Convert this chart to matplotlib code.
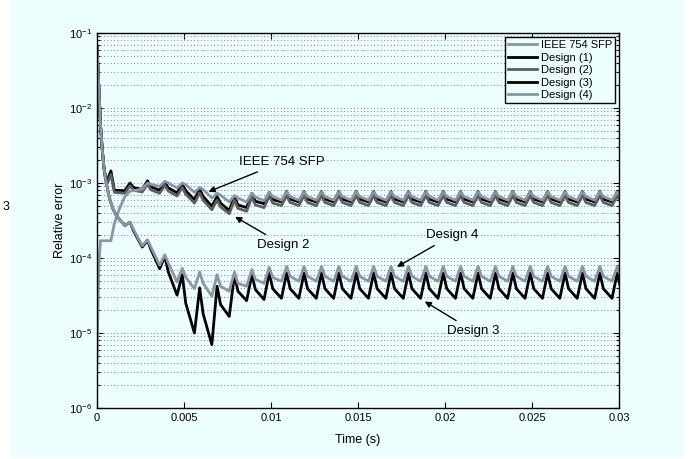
import matplotlib
matplotlib.use("Agg")
import matplotlib.pyplot as plt
from matplotlib.patches import Rectangle
from matplotlib.ticker import LogLocator, NullFormatter, FixedLocator

plt.rcParams['font.family'] = ['Liberation Sans', 'DejaVu Sans']

# ---------------- data ----------------
# time of each ripple peak after the start-up (s)
cycle_t = [round(0.0009 + 0.001 * k, 4) for k in range(1, 30)]

# IEEE 754 SFP
ieee_head_t = [0.0, 0.0001, 0.0002, 0.0004, 0.0008, 0.0010, 0.0013]
ieee_head_v = [4e-6, 8e-5, 1.7e-4, 1.7e-4, 1.7e-4, 2.9e-4, 4.6e-4]
ieee_trough = [6.6e-4, 8.3e-4, 9.0e-4, 8.6e-4, 7.5e-4, 6.3e-4, 5.6e-4, 5.6e-4, 5.8e-4] + [5.9e-4] * 20
ieee_peak = [7.8e-4, 1.0e-3, 1.05e-3, 1.0e-3, 8.7e-4, 7.3e-4, 6.8e-4, 7.3e-4, 7.5e-4] + [7.6e-4] * 20
ieee_knee = [7.9e-4, 9.6e-4, 1.0e-3, 9.5e-4, 8.2e-4, 6.9e-4, 6.3e-4, 6.5e-4, 6.6e-4] + [6.6e-4] * 20

# Design (1)
d1_head_t = [0.0, 0.0001, 0.0002, 0.0003, 0.0004, 0.0005, 0.0006, 0.0008, 0.0010]
d1_head_v = [6.5e-2, 2.0e-2, 6.0e-3, 2.8e-3, 1.6e-3, 1.15e-3, 1.1e-3, 1.45e-3, 8.0e-4]
d1_trough = [7.9e-4, 8.2e-4, 8.0e-4, 7.4e-4, 6.0e-4, 4.9e-4, 4.3e-4, 4.7e-4, 5.3e-4] + [5.6e-4] * 20
d1_peak = [1.0e-3, 1.07e-3, 1.04e-3, 9.7e-4, 8.3e-4, 6.6e-4, 6.6e-4, 7.3e-4, 7.5e-4] + [7.7e-4] * 20
d1_knee = [8.7e-4, 8.9e-4, 8.6e-4, 7.9e-4, 6.6e-4, 5.4e-4, 5.1e-4, 5.7e-4, 6.0e-4] + [6.1e-4] * 20

# Design (2)
d2_head_t = [0.0, 0.0001, 0.0002, 0.0003, 0.0004, 0.0005, 0.0006, 0.0008, 0.0010]
d2_head_v = [6.5e-2, 2.0e-2, 6.0e-3, 2.8e-3, 1.6e-3, 1.1e-3, 1.0e-3, 1.3e-3, 7.5e-4]
d2_trough = [7.3e-4, 7.6e-4, 7.3e-4, 6.7e-4, 5.4e-4, 4.4e-4, 3.9e-4, 4.2e-4, 4.7e-4] + [5.0e-4] * 20
d2_peak = [9.2e-4, 9.6e-4, 9.3e-4, 8.7e-4, 7.4e-4, 5.9e-4, 5.9e-4, 6.5e-4, 6.7e-4] + [6.8e-4] * 20
d2_knee = [8.0e-4, 8.1e-4, 7.8e-4, 7.1e-4, 5.9e-4, 4.8e-4, 4.6e-4, 5.1e-4, 5.4e-4] + [5.5e-4] * 20

# Design (3)
d3_head_t = [0.0, 0.0001, 0.0002, 0.0003, 0.0004, 0.0005, 0.0007, 0.0009, 0.0011]
d3_head_v = [6.5e-2, 2.0e-2, 6.0e-3, 2.8e-3, 1.6e-3, 1.1e-3, 6.5e-4, 4.6e-4, 3.7e-4]
d3_trough = [2.7e-4, 1.4e-4, 7.2e-5, 3.2e-5, 1.0e-5, 7.0e-6, 1.66e-5, 2.7e-5, 2.8e-5] + [2.9e-5] * 20
d3_peak = [3.0e-4, 1.7e-4, 1.05e-4, 6.0e-5, 4.0e-5, 4.2e-5, 6.0e-5, 6.0e-5, 6.3e-5] + [6.3e-5] * 20
d3_knee = [2.3e-4, 1.3e-4, 6.5e-5, 2.5e-5, 1.8e-5, 2.4e-5, 3.6e-5, 3.8e-5, 3.9e-5] + [3.9e-5] * 20

# Design (4)
d4_head_t = [0.0, 0.0001, 0.0002, 0.0003, 0.0004, 0.0005, 0.0007, 0.0009, 0.0011]
d4_head_v = [6.5e-2, 2.0e-2, 6.0e-3, 2.8e-3, 1.6e-3, 1.1e-3, 6.5e-4, 4.6e-4, 3.7e-4]
d4_trough = [2.7e-4, 1.45e-4, 8.0e-5, 4.8e-5, 3.9e-5, 3.1e-5, 3.6e-5, 4.2e-5, 4.6e-5] + [4.9e-5] * 20
d4_peak = [3.0e-4, 1.75e-4, 1.1e-4, 7.3e-5, 6.5e-5, 6.0e-5, 6.5e-5, 7.0e-5, 7.5e-5] + [7.7e-5] * 20
d4_knee = [2.4e-4, 1.4e-4, 8.5e-5, 5.5e-5, 4.6e-5, 4.2e-5, 4.6e-5, 5.2e-5, 5.5e-5] + [5.7e-5] * 20

legend_labels = ['IEEE 754 SFP', 'Design (1)', 'Design (2)', 'Design (3)', 'Design (4)']
x_ticks = [0, 0.005, 0.01, 0.015, 0.02, 0.025, 0.03]
x_ticklabels = ['0', '0.005', '0.01', '0.015', '0.02', '0.025', '0.03']


def build(head_t, head_v, trough, peak, knee):
    t = list(head_t)
    v = list(head_v)
    for tp, a, b, c in zip(cycle_t, trough, peak, knee):
        t += [tp - 0.0003, tp, tp + 0.0002]
        v += [a, b, c]
    return t, v


series = [
    build(ieee_head_t, ieee_head_v, ieee_trough, ieee_peak, ieee_knee),
    build(d1_head_t, d1_head_v, d1_trough, d1_peak, d1_knee),
    build(d2_head_t, d2_head_v, d2_trough, d2_peak, d2_knee),
    build(d3_head_t, d3_head_v, d3_trough, d3_peak, d3_knee),
    build(d4_head_t, d4_head_v, d4_trough, d4_peak, d4_knee),
]
colors = ['#8a95a8', '#000000', '#5e5e5e', '#000000', '#8a95a8']

# ---------------- figure ----------------
bg = '#eeffff'
fig = plt.figure(figsize=(7.0, 4.59), dpi=100, facecolor='white')
fig.patches.append(Rectangle((10 / 700, 2 / 459), 673 / 700, 457 / 459,
                             transform=fig.transFigure, facecolor=bg,
                             edgecolor='none', zorder=-10))
ax = fig.add_axes([97 / 700, 1 - 408 / 459, 522 / 700, 375 / 459])
ax.set_facecolor(bg)

order = [1, 2, 0, 3, 4]
lines = {}
for i in order:
    t, v = series[i]
    ln, = ax.plot(t, v, color=colors[i], lw=2.0, solid_joinstyle='round',
                  label=legend_labels[i], clip_on=True)
    lines[i] = ln

ax.set_yscale('log')
ax.set_xlim(0, 0.03)
ax.set_ylim(1e-6, 1e-1)
ax.xaxis.set_major_locator(FixedLocator(x_ticks))
ax.set_xticklabels(x_ticklabels)
ax.yaxis.set_major_locator(LogLocator(base=10, numticks=10))
ax.yaxis.set_minor_locator(LogLocator(base=10, subs=range(2, 10), numticks=50))
ax.yaxis.set_minor_formatter(NullFormatter())
ax.tick_params(which='both', direction='in', top=True, right=True,
               labelsize=8, width=0.8, color='black')
ax.tick_params(which='major', length=4)
ax.tick_params(which='minor', length=2.5)
ax.grid(True, which='both', axis='y', linestyle=(0, (1, 3)), color='#666666', lw=0.6)
for s in ax.spines.values():
    s.set_linewidth(1.0)

ax.set_xlabel('Time (s)', fontsize=9, labelpad=8)
ax.set_ylabel('Relative error', fontsize=9, labelpad=2)

leg = ax.legend([lines[i] for i in range(5)], legend_labels, loc='upper right',
                fontsize=8, frameon=True, fancybox=False, framealpha=1,
                edgecolor='black', borderaxespad=0.35, handlelength=2.6,
                handletextpad=0.3, labelspacing=0.22, borderpad=0.3)
leg.get_frame().set_linewidth(1.0)
leg.get_frame().set_facecolor(bg)

arrow = dict(arrowstyle='-|>', color='black', lw=1.0, mutation_scale=9)
ax.annotate('IEEE 754 SFP', xy=(0.00626, 7.4e-4), xytext=(0.00815, 1.9e-3),
            fontsize=9.5, ha='left', va='center', arrowprops=arrow)
ax.annotate('Design 2', xy=(0.0078, 3.7e-4), xytext=(0.0092, 1.5e-4),
            fontsize=9.5, ha='left', va='center', arrowprops=arrow)
ax.annotate('Design 4', xy=(0.0171, 7.3e-5), xytext=(0.0189, 2.0e-4),
            fontsize=9.5, ha='left', va='center', arrowprops=arrow)
ax.annotate('Design 3', xy=(0.0187, 2.75e-5), xytext=(0.0201, 1.07e-5),
            fontsize=9.5, ha='left', va='center', arrowprops=arrow)

fig.text(3 / 700, 1 - 207 / 459, '3', fontsize=9, ha='left', va='center')

fig.savefig('out.png', dpi=100, facecolor='white')
